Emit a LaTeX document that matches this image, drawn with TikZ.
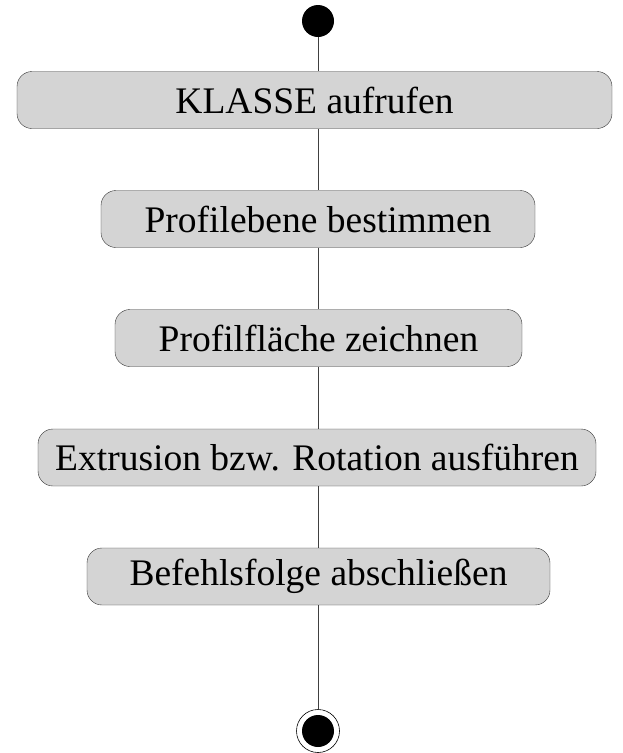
\documentclass[tikz,border=0pt]{standalone}
\usepackage{fontspec}
\setmainfont{Liberation Serif}
\begin{document}
\begin{tikzpicture}[x=1pt, y=-1pt, line join=round,
		akt/.style={draw=black!80, fill=black!17, rounded corners=15pt, minimum height=57pt, inner sep=0pt, font=\fontsize{37.5}{42}\selectfont},
		fluss/.style={draw=black!75, line width=0.6pt}]
	\useasboundingbox (0,0) rectangle (623,753);
	\node[circle, fill=black, minimum size=32pt, inner sep=0pt] (start) at (318,21) {};
	\node[akt, minimum width=595pt] (klasse) at (314.5,100) {KLASSE aufrufen};
	\node[akt, minimum width=434pt] (ebene) at (318,219) {Profilebene bestimmen};
	\node[akt, minimum width=407pt] (flaeche) at (318.5,338) {Profilfläche zeichnen};
	\node[akt, minimum width=558pt] (extrusion) at (317,457.5) {Extrusion bzw. Rotation ausführen};
	\node[akt, minimum width=463pt] (abschluss) at (318.5,576.5) {Befehlsfolge abschließen};
	\node[circle, draw, line width=0.6pt, minimum size=43pt, inner sep=0pt] (ende) at (318,731) {};
	\fill (ende.center) circle (16pt);
	% Ablauf
	\draw[fluss] (start) -- (klasse.north-|start);
	\draw[fluss] (klasse.south-|start) -- (ebene.north-|start);
	\draw[fluss] (ebene.south-|start) -- (flaeche.north-|start);
	\draw[fluss] (flaeche.south-|start) -- (extrusion.north-|start);
	\draw[fluss] (extrusion.south-|start) -- (abschluss.north-|start);
	\draw[fluss] (abschluss.south-|start) -- (ende);
\end{tikzpicture}
\end{document}
